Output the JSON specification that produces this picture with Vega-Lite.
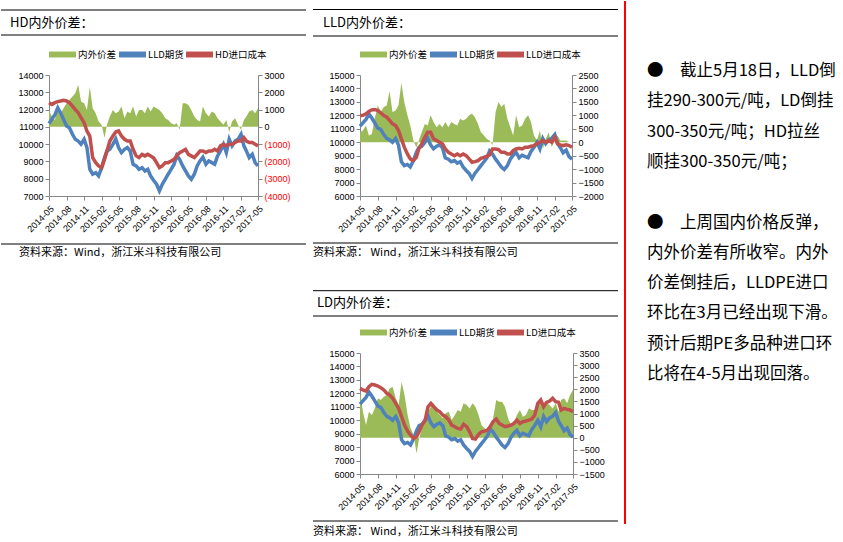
{
"$schema": "https://vega.github.io/schema/vega-lite/v6.json",
"padding": 0,
"background": "#ffffff",
"spacing": 5,
"config": {
  "font": "Noto Sans CJK SC",
  "view": {"stroke": null},
  "axis": {"domainColor": "#868686", "tickColor": "#868686", "tickSize": 4, "labelFont": "Liberation Sans", "labelFontSize": 9, "labelColor": "#000000", "grid": false, "labelPadding": 2},
  "legend": {"orient": "top", "title": null, "direction": "horizontal", "offset": 16, "symbolType": "M-1,-0.22H1V0.22H-1Z", "symbolSize": 729, "symbolStrokeWidth": 0, "symbolOpacity": 1, "labelFont": "Noto Sans CJK SC", "labelFontSize": 9.5, "labelColor": "#000000", "columnPadding": 2, "labelOffset": 2}
},
"datasets": {"p": [
{"d":"2014-05-01","f":11200,"hs":980,"hc":12400,"ls":370,"lc":11990,"ds":1900,"dc":12370},
{"d":"2014-05-16","f":11440,"hs":600,"hc":12300,"ls":435,"lc":12000,"ds":1070,"dc":12250},
{"d":"2014-06-01","f":11700,"hs":400,"hc":12400,"ls":620,"lc":12110,"ds":520,"dc":12170},
{"d":"2014-06-16","f":12100,"hs":1180,"hc":12460,"ls":250,"lc":12290,"ds":1070,"dc":12490},
{"d":"2014-07-01","f":11800,"hs":790,"hc":12500,"ls":310,"lc":12410,"ds":940,"dc":12670},
{"d":"2014-07-16","f":11440,"hs":1080,"hc":12540,"ls":870,"lc":12440,"ds":1210,"dc":12620},
{"d":"2014-08-01","f":11050,"hs":1370,"hc":12500,"ls":1370,"lc":12360,"ds":1630,"dc":12540},
{"d":"2014-08-16","f":10950,"hs":1560,"hc":12400,"ls":1120,"lc":12190,"ds":1560,"dc":12420},
{"d":"2014-09-01","f":10570,"hs":1750,"hc":12200,"ls":1310,"lc":11990,"ds":1690,"dc":12250},
{"d":"2014-09-16","f":10280,"hs":1950,"hc":12000,"ls":1370,"lc":11870,"ds":1760,"dc":12000},
{"d":"2014-10-01","f":10180,"hs":2430,"hc":11820,"ls":1900,"lc":11620,"ds":2040,"dc":11870},
{"d":"2014-10-16","f":10000,"hs":1460,"hc":11530,"ls":1120,"lc":11370,"ds":2100,"dc":11630},
{"d":"2014-11-01","f":10280,"hs":1370,"hc":11240,"ls":1180,"lc":11240,"ds":1630,"dc":11250},
{"d":"2014-11-16","f":9800,"hs":980,"hc":10760,"ls":1370,"lc":10870,"ds":1350,"dc":10880},
{"d":"2014-12-01","f":8550,"hs":2300,"hc":10470,"ls":2200,"lc":10250,"ds":2310,"dc":10260},
{"d":"2014-12-16","f":8260,"hs":1080,"hc":9220,"ls":1490,"lc":9630,"ds":1760,"dc":9640},
{"d":"2015-01-01","f":8350,"hs":790,"hc":8930,"ls":1000,"lc":9130,"ds":940,"dc":9190},
{"d":"2015-01-16","f":8160,"hs":310,"hc":8740,"ls":620,"lc":8760,"ds":390,"dc":8900},
{"d":"2015-02-01","f":8640,"hs":120,"hc":8640,"ls":60,"lc":8630,"ds":110,"dc":8650},
{"d":"2015-02-16","f":9220,"hs":-650,"hc":9120,"ls":-190,"lc":8880,"ds":-650,"dc":8770},
{"d":"2015-03-01","f":9600,"hs":120,"hc":9600,"ls":60,"lc":9500,"ds":-30,"dc":9140},
{"d":"2015-03-16","f":9700,"hs":600,"hc":10180,"ls":370,"lc":9880,"ds":390,"dc":9640},
{"d":"2015-04-01","f":9990,"hs":980,"hc":10470,"ls":680,"lc":10370,"ds":660,"dc":10010},
{"d":"2015-04-16","f":10300,"hs":790,"hc":10700,"ls":620,"lc":10750,"ds":1070,"dc":11000},
{"d":"2015-05-01","f":9800,"hs":890,"hc":10760,"ls":1000,"lc":10750,"ds":1280,"dc":11250},
{"d":"2015-05-16","f":9510,"hs":1180,"hc":10470,"ls":750,"lc":10250,"ds":1420,"dc":11000},
{"d":"2015-06-01","f":9700,"hs":500,"hc":10280,"ls":560,"lc":10120,"ds":1070,"dc":10760},
{"d":"2015-06-16","f":9800,"hs":890,"hc":10180,"ls":680,"lc":10000,"ds":940,"dc":10630},
{"d":"2015-07-01","f":9600,"hs":790,"hc":10180,"ls":560,"lc":9880,"ds":800,"dc":10380},
{"d":"2015-07-16","f":8830,"hs":1180,"hc":9700,"ls":750,"lc":9500,"ds":1010,"dc":10260},
{"d":"2015-08-01","f":8740,"hs":600,"hc":9320,"ls":560,"lc":9250,"ds":1070,"dc":10010},
{"d":"2015-08-16","f":8550,"hs":980,"hc":9220,"ls":750,"lc":9130,"ds":730,"dc":9640},
{"d":"2015-09-01","f":8640,"hs":980,"hc":9410,"ls":680,"lc":9000,"ds":940,"dc":9520},
{"d":"2015-09-16","f":8450,"hs":790,"hc":9320,"ls":620,"lc":9130,"ds":1140,"dc":9390},
{"d":"2015-10-01","f":8550,"hs":1180,"hc":9410,"ls":870,"lc":9000,"ds":1070,"dc":9340},
{"d":"2015-10-16","f":8160,"hs":890,"hc":9320,"ls":810,"lc":9130,"ds":1420,"dc":9700},
{"d":"2015-11-01","f":7900,"hs":1180,"hc":9200,"ls":870,"lc":9000,"ds":1350,"dc":9520},
{"d":"2015-11-16","f":7680,"hs":1080,"hc":8930,"ls":1000,"lc":8760,"ds":1210,"dc":9140},
{"d":"2015-12-01","f":7300,"hs":980,"hc":8640,"ls":1060,"lc":8510,"ds":1420,"dc":8650},
{"d":"2015-12-16","f":7680,"hs":790,"hc":8740,"ls":930,"lc":8560,"ds":1280,"dc":8600},
{"d":"2016-01-01","f":7970,"hs":500,"hc":8930,"ls":680,"lc":8630,"ds":940,"dc":8950},
{"d":"2016-01-16","f":8260,"hs":400,"hc":8930,"ls":370,"lc":8800,"ds":520,"dc":9140},
{"d":"2016-02-01","f":8550,"hs":210,"hc":9030,"ls":250,"lc":8880,"ds":390,"dc":9190},
{"d":"2016-02-16","f":8840,"hs":120,"hc":9120,"ls":120,"lc":8960,"ds":180,"dc":9270},
{"d":"2016-03-01","f":9350,"hs":210,"hc":9320,"ls":60,"lc":9050,"ds":320,"dc":9520},
{"d":"2016-03-16","f":9120,"hs":-170,"hc":9510,"ls":-100,"lc":9500,"ds":800,"dc":9890},
{"d":"2016-04-01","f":8740,"hs":1370,"hc":9600,"ls":1120,"lc":9500,"ds":1560,"dc":10090},
{"d":"2016-04-16","f":8450,"hs":1370,"hc":9700,"ls":1500,"lc":9450,"ds":1490,"dc":9760},
{"d":"2016-05-01","f":8160,"hs":1270,"hc":9410,"ls":1310,"lc":9250,"ds":1490,"dc":9640},
{"d":"2016-05-16","f":7970,"hs":980,"hc":9320,"ls":1430,"lc":9250,"ds":1280,"dc":9520},
{"d":"2016-06-01","f":8260,"hs":600,"hc":9220,"ls":870,"lc":9130,"ds":800,"dc":9570},
{"d":"2016-06-16","f":8740,"hs":400,"hc":9410,"ls":560,"lc":9130,"ds":520,"dc":9640},
{"d":"2016-07-01","f":9030,"hs":310,"hc":9600,"ls":250,"lc":9380,"ds":590,"dc":9760},
{"d":"2016-07-16","f":9250,"hs":1180,"hc":9600,"ls":1000,"lc":9500,"ds":940,"dc":10010},
{"d":"2016-08-01","f":8840,"hs":790,"hc":9510,"ls":560,"lc":9550,"ds":1140,"dc":9760},
{"d":"2016-08-16","f":9030,"hs":600,"hc":9600,"ls":620,"lc":9500,"ds":870,"dc":9890},
{"d":"2016-09-01","f":8930,"hs":890,"hc":9600,"ls":870,"lc":9630,"ds":940,"dc":9940},
{"d":"2016-09-16","f":8840,"hs":790,"hc":9700,"ls":1000,"lc":9630,"ds":1210,"dc":10010},
{"d":"2016-10-01","f":9320,"hs":500,"hc":9600,"ls":750,"lc":9700,"ds":1140,"dc":10090},
{"d":"2016-10-16","f":9610,"hs":310,"hc":9900,"ls":250,"lc":9750,"ds":1140,"dc":10380},
{"d":"2016-11-01","f":9990,"hs":120,"hc":9990,"ls":60,"lc":9880,"ds":1280,"dc":11250},
{"d":"2016-11-16","f":9510,"hs":400,"hc":9900,"ls":435,"lc":10000,"ds":1560,"dc":11500},
{"d":"2016-12-01","f":10280,"hs":-300,"hc":9990,"ls":-250,"lc":10120,"ds":1140,"dc":11000},
{"d":"2016-12-16","f":9900,"hs":310,"hc":9990,"ls":120,"lc":10000,"ds":1420,"dc":11330},
{"d":"2017-01-01","f":10180,"hs":500,"hc":10090,"ls":370,"lc":10120,"ds":1350,"dc":11430},
{"d":"2017-01-16","f":10280,"hs":120,"hc":10180,"ls":-190,"lc":10000,"ds":1210,"dc":11630},
{"d":"2017-02-01","f":10570,"hs":-170,"hc":10180,"ls":60,"lc":10370,"ds":1420,"dc":11380},
{"d":"2017-02-16","f":9900,"hs":400,"hc":10380,"ls":250,"lc":9880,"ds":1070,"dc":11330},
{"d":"2017-03-01","f":9610,"hs":600,"hc":10180,"ls":60,"lc":9800,"ds":1560,"dc":10760},
{"d":"2017-03-16","f":9220,"hs":890,"hc":10090,"ls":60,"lc":9750,"ds":1630,"dc":10880},
{"d":"2017-04-01","f":9410,"hs":980,"hc":10090,"ls":60,"lc":9800,"ds":1420,"dc":10810},
{"d":"2017-04-16","f":8930,"hs":790,"hc":9990,"ls":0,"lc":9750,"ds":1760,"dc":10760},
{"d":"2017-05-01","f":8740,"hs":1080,"hc":9900,"ls":0,"lc":9630,"ds":1970,"dc":10630}
]},
"resolve": {"scale": {"color": "independent"}},
"hconcat": [
 {"width": 209, "height": 121,
  "layer": [
   {"data": {"name": "p"},
    "encoding": {"x": {"field": "d", "type": "temporal", "scale": {"type": "utc", "domain": [{"year": 2014, "month": 5, "date": 1, "utc": true}, {"year": 2017, "month": 5, "date": 1, "utc": true}]}, "axis": {"title": null, "values": [{"year": 2014, "month": 5, "date": 1, "utc": true}, {"year": 2014, "month": 8, "date": 1, "utc": true}, {"year": 2014, "month": 11, "date": 1, "utc": true}, {"year": 2015, "month": 2, "date": 1, "utc": true}, {"year": 2015, "month": 5, "date": 1, "utc": true}, {"year": 2015, "month": 8, "date": 1, "utc": true}, {"year": 2015, "month": 11, "date": 1, "utc": true}, {"year": 2016, "month": 2, "date": 1, "utc": true}, {"year": 2016, "month": 5, "date": 1, "utc": true}, {"year": 2016, "month": 8, "date": 1, "utc": true}, {"year": 2016, "month": 11, "date": 1, "utc": true}, {"year": 2017, "month": 2, "date": 1, "utc": true}, {"year": 2017, "month": 5, "date": 1, "utc": true}], "format": "%Y-%m", "labelAngle": -45, "labelPadding": 4, "labelOverlap": false, "labelFlush": false, "labelBound": false}}},
    "layer": [
     {"mark": {"type": "area", "opacity": 1},
      "encoding": {
       "y": {"field": "hs", "type": "quantitative", "stack": null, "scale": {"domain": [-4000, 3000], "nice": false}, "axis": {"title": null, "orient": "right", "values": [-4000, -3000, -2000, -1000, 0, 1000, 2000, 3000], "labelExpr": "datum.value < 0 ? '(' + format(-datum.value, 'd') + ')' : format(datum.value, 'd')", "labelColor": {"condition": {"test": "datum.value < 0", "value": "#FF0000"}, "value": "#000000"}}},
       "color": {"datum": "内外价差", "type": "nominal", "scale": {"domain": ["内外价差", "LLD期货", "HD进口成本"], "range": ["#9BBB59", "#4F81BD", "#C0504D"]},
         "legend": {"encode": {"symbols": {"update": {"fill": {"signal": "datum.value === '内外价差' ? '#9BBB59' : (datum.value === 'LLD期货' ? '#4F81BD' : '#C0504D')"}, "stroke": {"value": "transparent"}}}}}}}},
     {"layer": [
       {"mark": {"type": "line", "strokeWidth": 3.5},
        "encoding": {
         "y": {"field": "f", "type": "quantitative", "scale": {"domain": [7000, 14000], "nice": false}, "axis": {"title": null, "orient": "left", "values": [7000, 8000, 9000, 10000, 11000, 12000, 13000, 14000], "format": "d"}},
         "color": {"datum": "LLD期货", "type": "nominal"}}},
       {"mark": {"type": "line", "strokeWidth": 3.5},
        "encoding": {
         "y": {"field": "hc", "type": "quantitative", "scale": {"domain": [7000, 14000], "nice": false}, "axis": {"title": null, "orient": "left", "values": [7000, 8000, 9000, 10000, 11000, 12000, 13000, 14000], "format": "d"}},
         "color": {"datum": "HD进口成本", "type": "nominal"}}}
     ]}
    ],
    "resolve": {"scale": {"y": "independent"}}},
   {"data": {"values": [{"t": "HD内外价差：", "s": "资料来源：Wind，浙江米斗科技有限公司"}]},
    "layer": [
     {"mark": {"type": "rule", "color": "#000000", "strokeWidth": 1}, "encoding": {"x": {"datum": 0, "type": "quantitative", "scale": {"domain": [48, 257], "nice": false, "zero": false}, "axis": null}, "x2": {"datum": 305}, "y": {"datum": 6, "type": "quantitative", "scale": {"domain": [71, 192], "reverse": true, "nice": false, "zero": false}, "axis": null}}},
     {"mark": {"type": "rule", "color": "#000000", "strokeWidth": 1}, "encoding": {"x": {"datum": 0, "type": "quantitative", "scale": {"domain": [48, 257], "nice": false, "zero": false}, "axis": null}, "x2": {"datum": 305}, "y": {"datum": 31, "type": "quantitative", "scale": {"domain": [71, 192], "reverse": true, "nice": false, "zero": false}, "axis": null}}},
     {"mark": {"type": "rule", "color": "#000000", "strokeWidth": 1}, "encoding": {"x": {"datum": 0, "type": "quantitative", "scale": {"domain": [48, 257], "nice": false, "zero": false}, "axis": null}, "x2": {"datum": 305}, "y": {"datum": 240, "type": "quantitative", "scale": {"domain": [71, 192], "reverse": true, "nice": false, "zero": false}, "axis": null}}},
     {"mark": {"type": "text", "align": "left", "baseline": "middle", "fontSize": 13, "color": "#000000"}, "encoding": {"x": {"datum": 9, "type": "quantitative", "scale": {"domain": [48, 257], "nice": false, "zero": false}, "axis": null}, "y": {"datum": 18.5, "type": "quantitative", "scale": {"domain": [71, 192], "reverse": true, "nice": false, "zero": false}, "axis": null}, "text": {"field": "t"}}},
     {"mark": {"type": "text", "align": "left", "baseline": "middle", "fontSize": 11, "color": "#000000"}, "encoding": {"x": {"datum": 18, "type": "quantitative", "scale": {"domain": [48, 257], "nice": false, "zero": false}, "axis": null}, "y": {"datum": 249, "type": "quantitative", "scale": {"domain": [71, 192], "reverse": true, "nice": false, "zero": false}, "axis": null}, "text": {"field": "s"}}}
    ]}
  ],
  "resolve": {"scale": {"x": "independent", "y": "independent"}}},
{"vconcat": [
 {"width": 212, "height": 121,
  "layer": [
   {"data": {"name": "p"},
    "encoding": {"x": {"field": "d", "type": "temporal", "scale": {"type": "utc", "domain": [{"year": 2014, "month": 5, "date": 1, "utc": true}, {"year": 2017, "month": 5, "date": 1, "utc": true}]}, "axis": {"title": null, "values": [{"year": 2014, "month": 5, "date": 1, "utc": true}, {"year": 2014, "month": 8, "date": 1, "utc": true}, {"year": 2014, "month": 11, "date": 1, "utc": true}, {"year": 2015, "month": 2, "date": 1, "utc": true}, {"year": 2015, "month": 5, "date": 1, "utc": true}, {"year": 2015, "month": 8, "date": 1, "utc": true}, {"year": 2015, "month": 11, "date": 1, "utc": true}, {"year": 2016, "month": 2, "date": 1, "utc": true}, {"year": 2016, "month": 5, "date": 1, "utc": true}, {"year": 2016, "month": 8, "date": 1, "utc": true}, {"year": 2016, "month": 11, "date": 1, "utc": true}, {"year": 2017, "month": 2, "date": 1, "utc": true}, {"year": 2017, "month": 5, "date": 1, "utc": true}], "format": "%Y-%m", "labelAngle": -45, "labelPadding": 4, "labelOverlap": false, "labelFlush": false, "labelBound": false}}},
    "layer": [
     {"mark": {"type": "area", "opacity": 1},
      "encoding": {
       "y": {"field": "ls", "type": "quantitative", "stack": null, "scale": {"domain": [-2000, 2500], "nice": false}, "axis": {"title": null, "orient": "right", "values": [-2000, -1500, -1000, -500, 0, 500, 1000, 1500, 2000, 2500], "format": "d"}},
       "color": {"datum": "内外价差", "type": "nominal", "scale": {"domain": ["内外价差", "LLD期货", "LLD进口成本"], "range": ["#9BBB59", "#4F81BD", "#C0504D"]},
         "legend": {"encode": {"symbols": {"update": {"fill": {"signal": "datum.value === '内外价差' ? '#9BBB59' : (datum.value === 'LLD期货' ? '#4F81BD' : '#C0504D')"}, "stroke": {"value": "transparent"}}}}}}}},
     {"layer": [
       {"mark": {"type": "line", "strokeWidth": 3.5},
        "encoding": {
         "y": {"field": "f", "type": "quantitative", "scale": {"domain": [6000, 15000], "nice": false}, "axis": {"title": null, "orient": "left", "values": [6000, 7000, 8000, 9000, 10000, 11000, 12000, 13000, 14000, 15000], "format": "d"}},
         "color": {"datum": "LLD期货", "type": "nominal"}}},
       {"mark": {"type": "line", "strokeWidth": 3.5},
        "encoding": {
         "y": {"field": "lc", "type": "quantitative", "scale": {"domain": [6000, 15000], "nice": false}, "axis": {"title": null, "orient": "left", "values": [6000, 7000, 8000, 9000, 10000, 11000, 12000, 13000, 14000, 15000], "format": "d"}},
         "color": {"datum": "LLD进口成本", "type": "nominal"}}}
     ]}
    ],
    "resolve": {"scale": {"y": "independent"}}},
   {"data": {"values": [{"t": "LLD内外价差：", "s": "资料来源： Wind，浙江米斗科技有限公司"}]},
    "layer": [
     {"mark": {"type": "rule", "color": "#000000", "strokeWidth": 1}, "encoding": {"x": {"datum": 0, "type": "quantitative", "scale": {"domain": [47, 259], "nice": false, "zero": false}, "axis": null}, "x2": {"datum": 305}, "y": {"datum": 8.5, "type": "quantitative", "scale": {"domain": [74, 195], "reverse": true, "nice": false, "zero": false}, "axis": null}}},
     {"mark": {"type": "rule", "color": "#000000", "strokeWidth": 1}, "encoding": {"x": {"datum": 0, "type": "quantitative", "scale": {"domain": [47, 259], "nice": false, "zero": false}, "axis": null}, "x2": {"datum": 305}, "y": {"datum": 35, "type": "quantitative", "scale": {"domain": [74, 195], "reverse": true, "nice": false, "zero": false}, "axis": null}}},
     {"mark": {"type": "rule", "color": "#000000", "strokeWidth": 1}, "encoding": {"x": {"datum": 0, "type": "quantitative", "scale": {"domain": [47, 259], "nice": false, "zero": false}, "axis": null}, "x2": {"datum": 305}, "y": {"datum": 242, "type": "quantitative", "scale": {"domain": [74, 195], "reverse": true, "nice": false, "zero": false}, "axis": null}}},
     {"mark": {"type": "text", "align": "left", "baseline": "middle", "fontSize": 13, "color": "#000000"}, "encoding": {"x": {"datum": 10, "type": "quantitative", "scale": {"domain": [47, 259], "nice": false, "zero": false}, "axis": null}, "y": {"datum": 21.5, "type": "quantitative", "scale": {"domain": [74, 195], "reverse": true, "nice": false, "zero": false}, "axis": null}, "text": {"field": "t"}}},
     {"mark": {"type": "text", "align": "left", "baseline": "middle", "fontSize": 11, "color": "#000000"}, "encoding": {"x": {"datum": 0, "type": "quantitative", "scale": {"domain": [47, 259], "nice": false, "zero": false}, "axis": null}, "y": {"datum": 252, "type": "quantitative", "scale": {"domain": [74, 195], "reverse": true, "nice": false, "zero": false}, "axis": null}, "text": {"field": "s"}}}
    ]}
  ],
  "resolve": {"scale": {"x": "independent", "y": "independent"}}},
 {"width": 213, "height": 121,
  "layer": [
   {"data": {"name": "p"},
    "encoding": {"x": {"field": "d", "type": "temporal", "scale": {"type": "utc", "domain": [{"year": 2014, "month": 5, "date": 1, "utc": true}, {"year": 2017, "month": 5, "date": 1, "utc": true}]}, "axis": {"title": null, "values": [{"year": 2014, "month": 5, "date": 1, "utc": true}, {"year": 2014, "month": 8, "date": 1, "utc": true}, {"year": 2014, "month": 11, "date": 1, "utc": true}, {"year": 2015, "month": 2, "date": 1, "utc": true}, {"year": 2015, "month": 5, "date": 1, "utc": true}, {"year": 2015, "month": 8, "date": 1, "utc": true}, {"year": 2015, "month": 11, "date": 1, "utc": true}, {"year": 2016, "month": 2, "date": 1, "utc": true}, {"year": 2016, "month": 5, "date": 1, "utc": true}, {"year": 2016, "month": 8, "date": 1, "utc": true}, {"year": 2016, "month": 11, "date": 1, "utc": true}, {"year": 2017, "month": 2, "date": 1, "utc": true}, {"year": 2017, "month": 5, "date": 1, "utc": true}], "format": "%Y-%m", "labelAngle": -45, "labelPadding": 4, "labelOverlap": false, "labelFlush": false, "labelBound": false}}},
    "layer": [
     {"mark": {"type": "area", "opacity": 1},
      "encoding": {
       "y": {"field": "ds", "type": "quantitative", "stack": null, "scale": {"domain": [-1500, 3500], "nice": false}, "axis": {"title": null, "orient": "right", "values": [-1500, -1000, -500, 0, 500, 1000, 1500, 2000, 2500, 3000, 3500], "format": "d"}},
       "color": {"datum": "内外价差", "type": "nominal", "scale": {"domain": ["内外价差", "LLD期货", "LD进口成本"], "range": ["#9BBB59", "#4F81BD", "#C0504D"]},
         "legend": {"encode": {"symbols": {"update": {"fill": {"signal": "datum.value === '内外价差' ? '#9BBB59' : (datum.value === 'LLD期货' ? '#4F81BD' : '#C0504D')"}, "stroke": {"value": "transparent"}}}}}}}},
     {"layer": [
       {"mark": {"type": "line", "strokeWidth": 3.5},
        "encoding": {
         "y": {"field": "f", "type": "quantitative", "scale": {"domain": [6000, 15000], "nice": false}, "axis": {"title": null, "orient": "left", "values": [6000, 7000, 8000, 9000, 10000, 11000, 12000, 13000, 14000, 15000], "format": "d"}},
         "color": {"datum": "LLD期货", "type": "nominal"}}},
       {"mark": {"type": "line", "strokeWidth": 3.5},
        "encoding": {
         "y": {"field": "dc", "type": "quantitative", "scale": {"domain": [6000, 15000], "nice": false}, "axis": {"title": null, "orient": "left", "values": [6000, 7000, 8000, 9000, 10000, 11000, 12000, 13000, 14000, 15000], "format": "d"}},
         "color": {"datum": "LD进口成本", "type": "nominal"}}}
     ]}
    ],
    "resolve": {"scale": {"y": "independent"}}},
   {"data": {"values": [{"t": "LD内外价差：", "s": "资料来源： Wind，浙江米斗科技有限公司"}]},
    "layer": [
     {"mark": {"type": "rule", "color": "#000000", "strokeWidth": 1}, "encoding": {"x": {"datum": 0, "type": "quantitative", "scale": {"domain": [47, 260], "nice": false, "zero": false}, "axis": null}, "x2": {"datum": 305}, "y": {"datum": 9, "type": "quantitative", "scale": {"domain": [71.3, 192.3], "reverse": true, "nice": false, "zero": false}, "axis": null}}},
     {"mark": {"type": "rule", "color": "#000000", "strokeWidth": 1}, "encoding": {"x": {"datum": 0, "type": "quantitative", "scale": {"domain": [47, 260], "nice": false, "zero": false}, "axis": null}, "x2": {"datum": 305}, "y": {"datum": 34.3, "type": "quantitative", "scale": {"domain": [71.3, 192.3], "reverse": true, "nice": false, "zero": false}, "axis": null}}},
     {"mark": {"type": "rule", "color": "#000000", "strokeWidth": 1}, "encoding": {"x": {"datum": 0, "type": "quantitative", "scale": {"domain": [47, 260], "nice": false, "zero": false}, "axis": null}, "x2": {"datum": 305}, "y": {"datum": 239.3, "type": "quantitative", "scale": {"domain": [71.3, 192.3], "reverse": true, "nice": false, "zero": false}, "axis": null}}},
     {"mark": {"type": "text", "align": "left", "baseline": "middle", "fontSize": 13, "color": "#000000"}, "encoding": {"x": {"datum": 4, "type": "quantitative", "scale": {"domain": [47, 260], "nice": false, "zero": false}, "axis": null}, "y": {"datum": 21.5, "type": "quantitative", "scale": {"domain": [71.3, 192.3], "reverse": true, "nice": false, "zero": false}, "axis": null}, "text": {"field": "t"}}},
     {"mark": {"type": "text", "align": "left", "baseline": "middle", "fontSize": 11, "color": "#000000"}, "encoding": {"x": {"datum": 0, "type": "quantitative", "scale": {"domain": [47, 260], "nice": false, "zero": false}, "axis": null}, "y": {"datum": 250.3, "type": "quantitative", "scale": {"domain": [71.3, 192.3], "reverse": true, "nice": false, "zero": false}, "axis": null}, "text": {"field": "s"}}}
    ]}
  ],
  "resolve": {"scale": {"x": "independent", "y": "independent"}}}
], "spacing": 32, "resolve": {"scale": {"color": "independent"}}},
{"width": 219, "height": 449,
 "layer": [
  {"data": {"values": [{"k": 1}]}, "mark": {"type": "rule", "color": "#FF0000", "strokeWidth": 2}, "encoding": {"x": {"datum": 0, "type": "quantitative", "scale": {"domain": [0, 1]}, "axis": null}, "y": {"datum": -2.475, "type": "quantitative", "scale": {"domain": [-0.033, 14.785], "reverse": true, "nice": false, "zero": false}, "axis": null}, "y2": {"datum": 14.785}}},
  {"data": {"values": [
    {"n": 0, "t": "●　截止5月18日，LLD倒"},
    {"n": 1, "t": "挂290-300元/吨，LD倒挂"},
    {"n": 2, "t": "300-350元/吨；HD拉丝"},
    {"n": 3, "t": "顺挂300-350元/吨；"},
    {"n": 5, "t": "●　上周国内价格反弹，"},
    {"n": 6, "t": "内外价差有所收窄。内外"},
    {"n": 7, "t": "价差倒挂后，LLDPE进口"},
    {"n": 8, "t": "环比在3月已经出现下滑。"},
    {"n": 9, "t": "预计后期PE多品种进口环"},
    {"n": 10, "t": "比将在4-5月出现回落。"}
   ]},
   "mark": {"type": "text", "align": "left", "baseline": "alphabetic", "fontSize": 16.5, "color": "#000000", "dx": 22},
   "encoding": {"x": {"datum": 0, "type": "quantitative", "axis": null}, "y": {"field": "n", "type": "quantitative", "scale": {"domain": [-0.033, 14.785], "reverse": true, "nice": false, "zero": false}, "axis": null}, "text": {"field": "t"}}}
 ]}
]
}
